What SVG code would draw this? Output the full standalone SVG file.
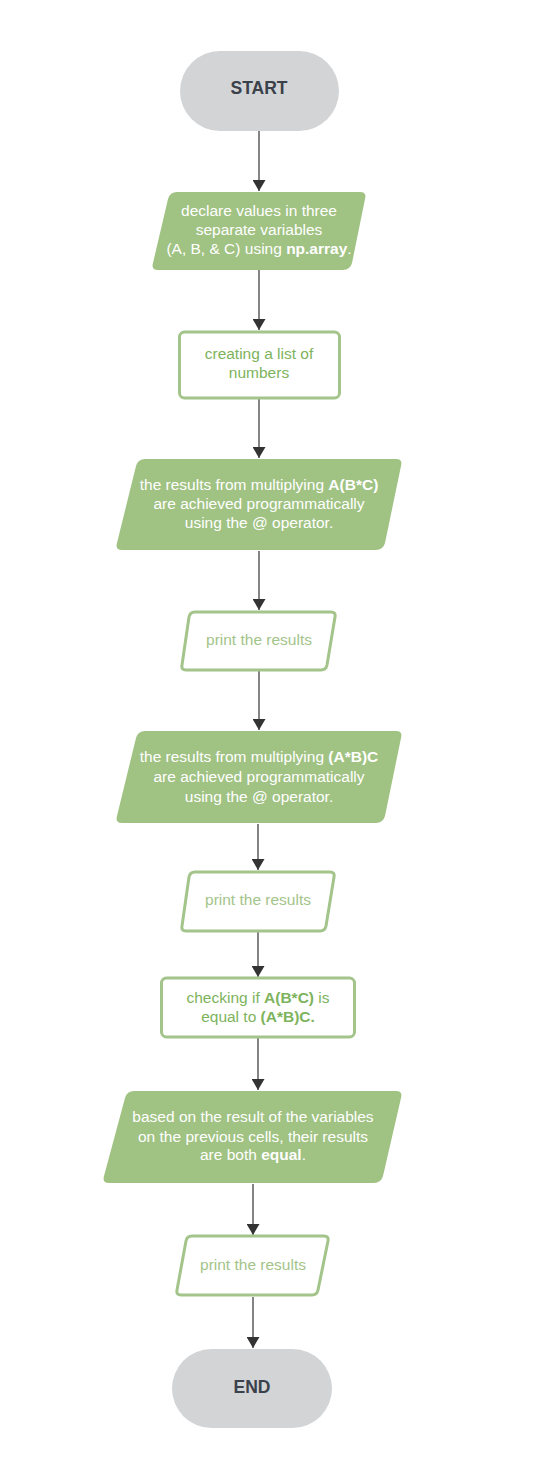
<svg xmlns="http://www.w3.org/2000/svg" width="533" height="1475" viewBox="0 0 533 1475">
<style>
.term{fill:#d3d4d6}
.termt{font-family:"Liberation Sans",Arial,sans-serif;font-size:17.5px;font-weight:bold;fill:#3a414a;text-anchor:middle}
.fill{fill:#a0c283}
.out{fill:#ffffff;stroke:#a3c48a;stroke-width:3;stroke-linejoin:round}
.wt{font-family:"Liberation Sans",Arial,sans-serif;font-size:15.5px;fill:#ffffff;text-anchor:middle}
.gt{font-family:"Liberation Sans",Arial,sans-serif;font-size:15.5px;fill:#7db35c;text-anchor:middle}
.pt{font-family:"Liberation Sans",Arial,sans-serif;font-size:15.5px;fill:#a3c48a;text-anchor:middle}
.b{font-weight:bold}
.conn line{stroke:#333333;stroke-width:1.2}
</style>
<defs>
<marker id="ah" markerWidth="11" markerHeight="13" refX="11" refY="6.5" orient="auto" markerUnits="userSpaceOnUse">
<path d="M0,0 L11,6.5 L0,13 Z" fill="#333333"/>
</marker>
</defs>
<rect width="533" height="1475" fill="#ffffff"/>
<g id="connectors" class="conn">
<line x1="259" y1="131" x2="259" y2="191" marker-end="url(#ah)"/>
<line x1="259" y1="270" x2="259" y2="330" marker-end="url(#ah)"/>
<line x1="259" y1="398" x2="259" y2="458" marker-end="url(#ah)"/>
<line x1="259" y1="551" x2="259" y2="610" marker-end="url(#ah)"/>
<line x1="259" y1="671" x2="259" y2="730" marker-end="url(#ah)"/>
<line x1="258" y1="824" x2="258" y2="870" marker-end="url(#ah)"/>
<line x1="258" y1="932" x2="258" y2="977" marker-end="url(#ah)"/>
<line x1="258" y1="1038" x2="258" y2="1090" marker-end="url(#ah)"/>
<line x1="253" y1="1184" x2="253" y2="1235" marker-end="url(#ah)"/>
<line x1="253" y1="1297" x2="253" y2="1348" marker-end="url(#ah)"/>
</g>
<g id="start">
<rect class="term" x="180" y="51" width="159" height="80" rx="40"/>
<text class="termt" x="259" y="94">START</text>
</g>
<g id="n1">
<path class="fill" d="M177,192 L360,192 Q367,192 365,199 L352,263 Q350,270 343,270 L158,270 Q151,270 153,263 L168,199 Q170,192 177,192 Z"/>
<text class="wt" x="259" y="215.5">declare values in three</text>
<text class="wt" x="259" y="234.5">separate variables</text>
<text class="wt" x="259" y="253.5">(A, B, &amp; C) using <tspan class="b">np.array</tspan>.</text>
</g>
<g id="n2">
<rect class="out" x="179.5" y="332" width="160" height="66" rx="5"/>
<text class="gt" x="259" y="359">creating a list of</text>
<text class="gt" x="259" y="378">numbers</text>
</g>
<g id="n3">
<path class="fill" d="M145,459 L396,459 Q403,459 401,466 L385,543 Q383,550 376,550 L122,550 Q115,550 117,543 L136,466 Q138,459 145,459 Z"/>
<text class="wt" x="259" y="489.5">the results from multiplying <tspan class="b">A(B*C)</tspan></text>
<text class="wt" x="259" y="508.5">are achieved programmatically</text>
<text class="wt" x="259" y="527.5">using the @ operator.</text>
</g>
<g id="n4">
<path class="out" d="M195,612 L331,612 Q336,612 335,617 L327,665 Q326,670 321,670 L186,670 Q181,670 182,665 L189,617 Q190,612 195,612 Z"/>
<text class="pt" x="259" y="644.5">print the results</text>
</g>
<g id="n5">
<path class="fill" d="M145,731 L396,731 Q403,731 401,738 L385,816 Q383,823 376,823 L122,823 Q115,823 117,816 L136,738 Q138,731 145,731 Z"/>
<text class="wt" x="259" y="761.5">the results from multiplying <tspan class="b">(A*B)C</tspan></text>
<text class="wt" x="259" y="781.5">are achieved programmatically</text>
<text class="wt" x="259" y="802">using the @ operator.</text>
</g>
<g id="n6">
<path class="out" d="M195,872 L330,872 Q335,872 334,877 L326,926 Q325,931 320,931 L186,931 Q181,931 182,926 L189,877 Q190,872 195,872 Z"/>
<text class="pt" x="258" y="904.5">print the results</text>
</g>
<g id="n7">
<rect class="out" x="161.5" y="978" width="193" height="59" rx="5"/>
<text class="gt" x="258" y="1002.5">checking if <tspan class="b">A(B*C)</tspan> is</text>
<text class="gt" x="258" y="1021.5">equal to <tspan class="b">(A*B)C.</tspan></text>
</g>
<g id="n8">
<path class="fill" d="M134,1091 L396,1091 Q403,1091 401,1098 L383,1176 Q381,1183 374,1183 L109,1183 Q102,1183 104,1176 L125,1098 Q127,1091 134,1091 Z"/>
<text class="wt" x="253" y="1121.5">based on the result of the variables</text>
<text class="wt" x="253" y="1141.5">on the previous cells, their results</text>
<text class="wt" x="253" y="1159.5">are both <tspan class="b">equal</tspan>.</text>
</g>
<g id="n9">
<path class="out" d="M192,1236 L324,1236 Q329,1236 328,1241 L318,1290 Q317,1295 312,1295 L181,1295 Q176,1295 177,1290 L186,1241 Q187,1236 192,1236 Z"/>
<text class="pt" x="253" y="1269.5">print the results</text>
</g>
<g id="end">
<rect class="term" x="172" y="1349" width="160" height="79" rx="39.5"/>
<text class="termt" x="252" y="1392.5">END</text>
</g>
</svg>
